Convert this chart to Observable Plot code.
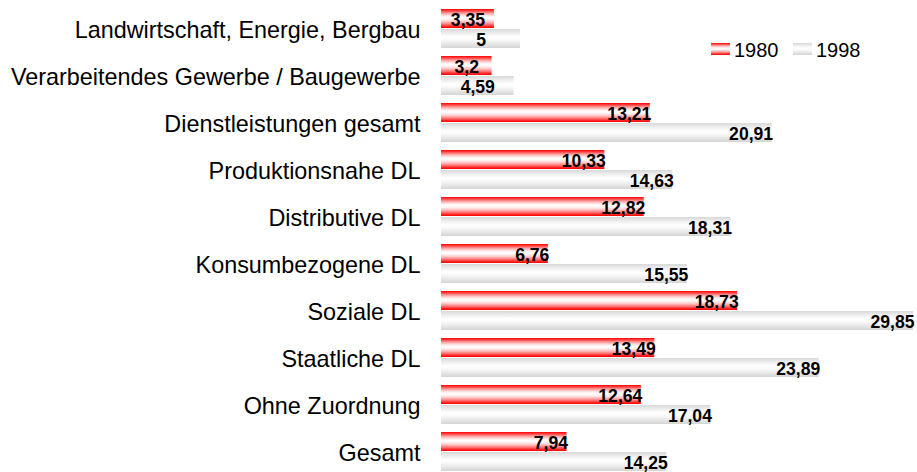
<!DOCTYPE html>
<html>
<head>
<meta charset="utf-8">
<script src="https://cdn.jsdelivr.net/npm/d3@7"></script>
<script src="https://cdn.jsdelivr.net/npm/@observablehq/plot@0.6"></script>
<style>
  html, body { margin: 0; padding: 0; background: #fff; }
  #chart { position: relative; width: 917px; height: 472px; overflow: hidden; }
</style>
</head>
<body>
<div id="chart"></div>
<script>
const categories = [
  "Landwirtschaft, Energie, Bergbau",
  "Verarbeitendes Gewerbe / Baugewerbe",
  "Dienstleistungen gesamt",
  "Produktionsnahe DL",
  "Distributive DL",
  "Konsumbezogene DL",
  "Soziale DL",
  "Staatliche DL",
  "Ohne Zuordnung",
  "Gesamt"
];
const years = ["1980", "1998"];
const values1980 = [3.35, 3.2, 13.21, 10.33, 12.82, 6.76, 18.73, 13.49, 12.64, 7.94];
const values1998 = [5, 4.59, 20.91, 14.63, 18.31, 15.55, 29.85, 23.89, 17.04, 14.25];

const data = categories.flatMap((c, i) => [
  {cat: c, year: years[0], value: values1980[i]},
  {cat: c, year: years[1], value: values1998[i]}
]);
const fmt = v => String(v).replace(".", ",");
const font = "'Liberation Sans', Arial, sans-serif";

const chart = Plot.plot({
  width: 917,
  height: 472,
  marginLeft: 441,
  marginRight: 4,
  marginTop: 7,
  marginBottom: 0,
  facet: {marginTop: 0, marginRight: 0, marginBottom: 0, marginLeft: 0},
  style: {fontFamily: font, background: "white", color: "black"},
  x: {domain: [0, 29.85], axis: null},
  y: {domain: years, paddingInner: 0.05, paddingOuter: 0, axis: null},
  fy: {domain: categories, paddingInner: 0.155, paddingOuter: 0, label: null},
  marks: [
    Plot.barX(data.filter(d => d.year === "1980"), {fy: "cat", y: "year", x: "value", fill: "url(#gRed)"}),
    Plot.barX(data.filter(d => d.year === "1998"), {fy: "cat", y: "year", x: "value", fill: "url(#gGray)"}),
    Plot.ruleX(data.filter(d => d.cat === "Gesamt" && d.year === "1998"), {fy: "cat", y: "year", x: () => 0, stroke: "#888", strokeWidth: 1}),
    Plot.text(data.filter(d => d.value >= 6), {
      fy: "cat", y: "year", x: "value", text: d => fmt(d.value),
      textAnchor: "end", dx: 1, dy: 1, fontWeight: "bold", fontSize: 17.6, fill: "black"
    }),
    Plot.text(data.filter(d => d.value < 6), {
      fy: "cat", y: "year", x: d => d.value / 2, text: d => fmt(d.value),
      textAnchor: "middle", dy: 1, fontWeight: "bold", fontSize: 17.6, fill: "black"
    }),
    Plot.axisFy({anchor: "left", tickSize: 0, tickPadding: 21, fontSize: 23.4, label: null, dy: 2, fill: "black"})
  ]
});

// gradients
const svg = d3.select(chart);
const defs = svg.insert("defs", ":first-child");
const red = defs.append("linearGradient").attr("id", "gRed")
  .attr("x1", 0).attr("y1", 0).attr("x2", 0).attr("y2", 1);
[[0, "#ff0000"], [0.1, "#ff4545"], [0.22, "#ff9f9f"], [0.33, "#ffdada"], [0.43, "#ffffff"],
 [0.53, "#fff6f6"], [0.66, "#ffc8c8"], [0.8, "#ff7a7a"], [0.92, "#ff2525"], [1, "#ff0000"]]
  .forEach(([o, c]) => red.append("stop").attr("offset", o).attr("stop-color", c));
const gray = defs.append("linearGradient").attr("id", "gGray")
  .attr("x1", 0).attr("y1", 0).attr("x2", 0).attr("y2", 1);
[[0, "#d8d8d8"], [0.2, "#ececec"], [0.42, "#ffffff"], [0.55, "#fbfbfb"], [0.78, "#e8e8e8"], [1, "#d4d4d4"]]
  .forEach(([o, c]) => gray.append("stop").attr("offset", o).attr("stop-color", c));

// legend
const lg = svg.append("g").attr("font-family", font).attr("font-size", 20)
  .attr("fill", "black").attr("text-anchor", "start");
const legendItems = [
  {label: years[0], fill: "url(#gRed)", x: 711},
  {label: years[1], fill: "url(#gGray)", x: 793}
];
legendItems.forEach(it => {
  lg.append("rect").attr("x", it.x).attr("y", 43).attr("width", 19).attr("height", 12).attr("fill", it.fill);
  lg.append("text").attr("x", it.x + 23).attr("y", 57).attr("text-anchor", "start").text(it.label);
});

document.getElementById("chart").appendChild(chart);
</script>
</body>
</html>
